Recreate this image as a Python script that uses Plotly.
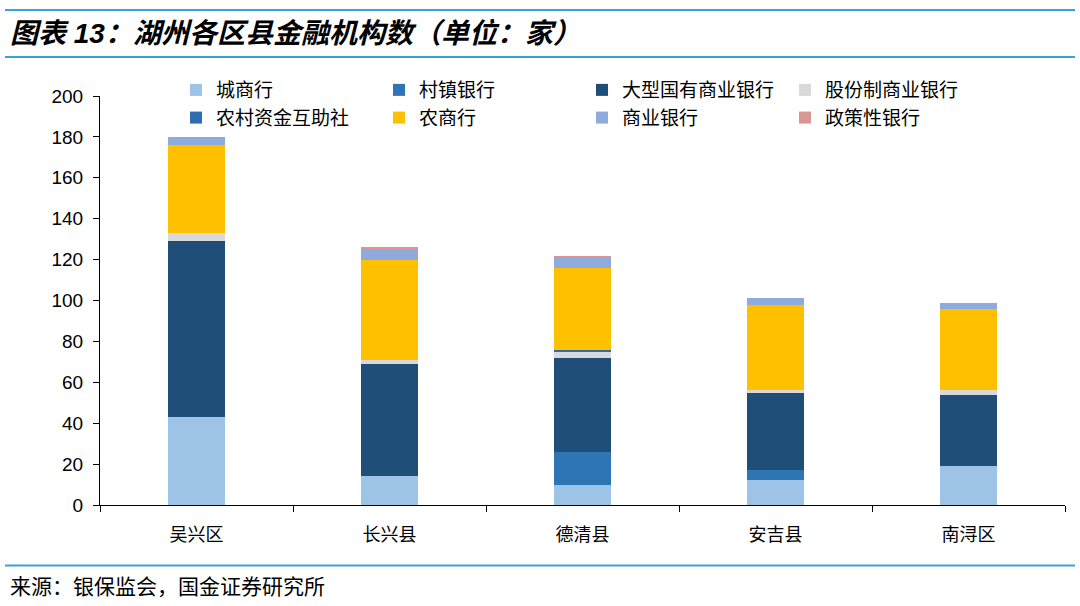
import plotly.graph_objects as go

categories = ["吴兴区", "长兴县", "德清县", "安吉县", "南浔区"]
series_names = ["城商行", "村镇银行", "大型国有商业银行", "股份制商业银行",
                "农村资金互助社", "农商行", "商业银行", "政策性银行"]
city_bank = [43, 14, 10, 12, 19]
village_bank = [0, 0, 16, 5, 0]
big_state_bank = [86, 55, 46, 38, 35]
joint_stock_bank = [4, 2, 3, 1, 2]
rural_coop = [0, 0, 1, 0, 0]
rural_commercial = [43, 49, 40, 42, 40]
commercial_bank = [4, 5, 5, 3, 3]
policy_bank = [0, 1, 1, 0, 0]
y_ticks = [0, 20, 40, 60, 80, 100, 120, 140, 160, 180, 200]

values = [city_bank, village_bank, big_state_bank, joint_stock_bank,
          rural_coop, rural_commercial, commercial_bank, policy_bank]
colors = ["#9DC3E6", "#2E75B6", "#1F4E79", "#D9D9D9",
          "#2E6DB4", "#FFC000", "#8FAADC", "#D99694"]

FONT = "Liberation Sans, Arial, Noto Sans CJK SC, sans-serif"
CJK = "Noto Sans CJK SC"

fig = go.Figure()
for name, vals, col in zip(series_names, values, colors):
    fig.add_trace(go.Bar(x=categories, y=vals, name=name,
                         marker=dict(color=col, line=dict(width=0))))

L, R, T, B = 100, 15, 96, 100.5
W, H = 1080, 606
pw, ph = W - L - R, H - T - B

def px(x):
    return (x - L) / pw

def py(y):
    return (H - B - y) / ph

fig.update_layout(
    width=W, height=H,
    barmode="stack", bargap=0.705,
    paper_bgcolor="white", plot_bgcolor="white",
    margin=dict(l=L, r=R, t=T, b=B),
    font=dict(family=FONT, size=19, color="#000000"),
    legend=dict(orientation="h", x=px(176), y=py(71), xanchor="left", yanchor="top",
                entrywidth=158, entrywidthmode="pixels", traceorder="normal",
                font=dict(size=19, family=CJK), itemwidth=30, tracegroupgap=0,
                bgcolor="rgba(0,0,0,0)"),
    showlegend=True,
)
fig.update_yaxes(range=[0, 200], tickvals=y_ticks, showgrid=False, zeroline=False,
                 showline=True, linecolor="#000000", linewidth=1,
                 ticks="outside", ticklen=6, tickcolor="#000000",
                 ticklabelstandoff=6,
                 tickfont=dict(size=19, family=FONT))
fig.update_xaxes(showgrid=False, showline=True, linecolor="#000000", linewidth=1,
                 ticks="outside", tickson="boundaries", ticklen=6, tickcolor="#000000",
                 ticklabelstandoff=13,
                 tickfont=dict(size=18, family=CJK))

line_col = "#3BA1DB"
for yy in (10, 57, 566):
    fig.add_shape(type="line", xref="paper", yref="paper",
                  x0=px(5), x1=px(1075), y0=py(yy), y1=py(yy),
                  line=dict(color=line_col, width=2))

fig.add_annotation(text="<b><i>图表 13：湖州各区县金融机构数（单位：家）</i></b>",
                   xref="paper", yref="paper", x=px(8), y=py(33),
                   xanchor="left", yanchor="middle", showarrow=False,
                   font=dict(size=28, family="Liberation Sans, Noto Sans CJK SC", color="#000000"))
fig.add_annotation(text="来源：银保监会，国金证券研究所",
                   xref="paper", yref="paper", x=px(8), y=py(586),
                   xanchor="left", yanchor="middle", showarrow=False,
                   font=dict(size=21, family=CJK, color="#000000"))

fig.write_html("out.html")
